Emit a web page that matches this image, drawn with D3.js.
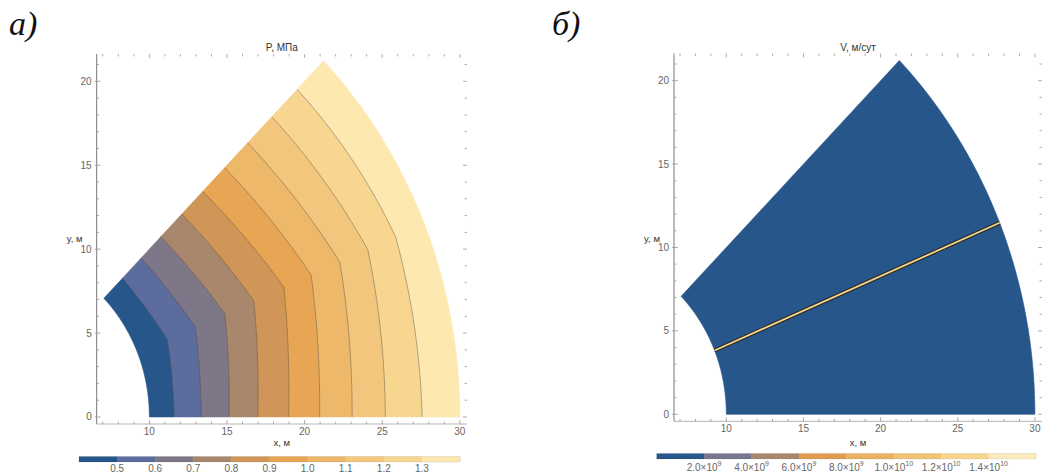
<!DOCTYPE html>
<html>
<head>
<meta charset="utf-8">
<script src="https://cdn.jsdelivr.net/npm/d3@7"></script>
<style>
  body { margin: 0; background: #fff; }
  svg { display: block; }
  text { font-family: "Liberation Sans", Arial, sans-serif; }
  text.letter { font-family: "Liberation Serif", "Times New Roman", serif; font-style: italic; }
</style>
</head>
<body>
<svg id="chart" width="1043" height="473"></svg>
<script>
// ---- Geometry of the reservoir sector (metres, degrees) ----
const innerRadius = 10;
const outerRadius = 30;
const sectorDeg = 45;

// ---- Pressure field P, MPa ----
const pRange = [0.4, 1.4];
const pLevels = [0.5, 0.6, 0.7, 0.8, 0.9, 1.0, 1.1, 1.2, 1.3];
// radius of each isobar at polar angles 0, 11.25, 22.5, 33.75 and 45 degrees
const pR0    = [11.60, 13.34, 15.14, 16.99, 18.97, 20.97, 23.06, 25.20, 27.57];
const pR11   = [11.69, 13.50, 15.40, 17.31, 19.32, 21.27, 23.33, 25.40, 27.60];
const pR22   = [12.08, 14.02, 16.08, 18.10, 20.20, 22.10, 24.10, 26.05, 28.00];
const pR34   = [11.73, 13.53, 15.43, 17.38, 19.37, 21.32, 23.37, 25.48, 27.69];
const pR45   = [11.70, 13.40, 15.20, 17.10, 19.00, 21.00, 23.10, 25.30, 27.60];
const pColors = ["#27568b", "#5b6c9d", "#7e7787", "#a9876d", "#d09658",
                 "#e8a654", "#eeb86b", "#f3c67d", "#f8d690", "#fde8b0"];
const pTicks = [0.5, 0.6, 0.7, 0.8, 0.9, 1.0, 1.1, 1.2, 1.3];

// ---- Velocity field V, m/day ----
const vBreaks = [0, 2e9, 4e9, 6e9, 8e9, 1e10, 1.2e10, 1.4e10, 1.6e10];
const vTicks = [2e9, 4e9, 6e9, 8e9, 1e10, 1.2e10, 1.4e10];
const vColors = ["#27568b", "#77788f", "#a8886d", "#e09c4f",
                 "#ebb15f", "#f1c374", "#f8d68d", "#fdecbb"];
const vMatrix = 5e8;          // velocity in the matrix
const vFracture = 1.3e10;     // velocity along the fracture
const fractureDeg = 22.5;
const fractureR = [10, 30];

// ---- Axis ticks ----
const xMajor = [10, 15, 20, 25, 30];
const yMajor = [0, 5, 10, 15, 20];
const xMinor = d3.range(7, 31);
const yMinor = d3.range(0, 22);

const svg = d3.select("#chart");
const rad = d => d * Math.PI / 180;

// quadratic interpolation of r between three equally spaced angles
function quad(a, b, c, t) {
  return a * 2 * (t - 0.5) * (t - 1) - b * 4 * t * (t - 1) + c * 2 * t * (t - 0.5);
}
// points (x, y) of a curve given radii at 0, 11.25, 22.5, 33.75, 45 degrees
function curvePoints(rs, n = 40) {
  const pts = [];
  for (let seg = 0; seg < 2; seg++) {
    for (let k = (seg === 0 ? 0 : 1); k <= n; k++) {
      const t = k / n;
      const th = rad(seg * sectorDeg / 2 + t * sectorDeg / 2);
      const r = quad(rs[seg * 2], rs[seg * 2 + 1], rs[seg * 2 + 2], t);
      pts.push([r * Math.cos(th), r * Math.sin(th)]);
    }
  }
  return pts;
}
const arcRadii = r => [r, r, r, r, r];

function panel(cfg) {
  const g = svg.append("g");
  const xs = d3.scaleLinear().domain([6.61, 30.46]).range([cfg.left, cfg.right]);
  const ys = d3.scaleLinear().domain([-0.42, 21.63]).range([cfg.bottom, cfg.top]);
  const line = d3.line().x(d => xs(d[0])).y(d => ys(d[1]));

  cfg.draw(g, xs, ys, line);

  // frame: left and bottom lines, ticks on all four sides
  g.append("line").attr("x1", cfg.left).attr("x2", cfg.left)
    .attr("y1", cfg.top).attr("y2", cfg.bottom).attr("stroke", "#777").attr("stroke-width", 1);
  g.append("line").attr("x1", cfg.left).attr("x2", cfg.right)
    .attr("y1", cfg.bottom).attr("y2", cfg.bottom).attr("stroke", "#b5b5b5").attr("stroke-width", 1);

  const tickCol = "#999";
  xMinor.forEach(v => {
    const L = xMajor.includes(v) ? 4 : 2.5;
    const x = xs(v);
    g.append("line").attr("x1", x).attr("x2", x).attr("y1", cfg.bottom).attr("y2", cfg.bottom - L)
      .attr("stroke", tickCol).attr("stroke-width", 0.8);
    g.append("line").attr("x1", x).attr("x2", x).attr("y1", cfg.top).attr("y2", cfg.top + L)
      .attr("stroke", tickCol).attr("stroke-width", 0.8);
  });
  yMinor.forEach(v => {
    const L = yMajor.includes(v) ? 4 : 2.5;
    const y = ys(v);
    g.append("line").attr("x1", cfg.left - (yMajor.includes(v) ? 2 : 0)).attr("x2", cfg.left + L)
      .attr("y1", y).attr("y2", y).attr("stroke", tickCol).attr("stroke-width", 0.8);
    g.append("line").attr("x1", cfg.right).attr("x2", cfg.right - L)
      .attr("y1", y).attr("y2", y).attr("stroke", tickCol).attr("stroke-width", 0.8);
  });

  xMajor.forEach(v => {
    g.append("text").attr("x", xs(v)).attr("y", cfg.bottom + 11)
      .attr("text-anchor", "middle").attr("font-size", 10).attr("fill", "#666").text(v);
  });
  yMajor.forEach(v => {
    g.append("text").attr("x", cfg.left - 5).attr("y", ys(v) + 3.5)
      .attr("text-anchor", "end").attr("font-size", 10).attr("fill", "#666").text(v);
  });

  g.append("text").attr("x", (cfg.left + cfg.right) / 2).attr("y", 51)
    .attr("text-anchor", "middle").attr("font-size", 10).attr("fill", "#333").text(cfg.title);
  g.append("text").attr("x", (cfg.left + cfg.right) / 2).attr("y", 446)
    .attr("text-anchor", "middle").attr("font-size", 9.5).attr("fill", "#333").text("x, м");
  g.append("text").attr("x", cfg.left - 22).attr("y", 242)
    .attr("text-anchor", "middle").attr("font-size", 9.5).attr("fill", "#333").text("y, м");
  return { xs, ys };
}

// ---------- panel a: pressure ----------
panel({
  left: 96.7, right: 467, top: 54, bottom: 424, title: "P, МПа",
  draw(g, xs, ys, line) {
    const bounds = [arcRadii(innerRadius)];
    pLevels.forEach((lv, i) => bounds.push([pR0[i], pR11[i], pR22[i], pR34[i], pR45[i]]));
    bounds.push(arcRadii(outerRadius));
    const curves = bounds.map(b => curvePoints(b));
    for (let i = 0; i < curves.length - 1; i++) {
      const poly = curves[i].concat(curves[i + 1].slice().reverse());
      g.append("path").attr("d", line(poly) + "Z")
        .attr("fill", pColors[i]).attr("stroke", pColors[i]).attr("stroke-width", 0.6);
    }
    for (let i = 1; i < curves.length - 1; i++) {
      g.append("path").attr("d", line(curves[i])).attr("fill", "none")
        .attr("stroke", "rgba(50,45,40,0.55)").attr("stroke-width", 0.7);
    }
  }
});

// ---------- panel б: velocity ----------
const vColor = d3.scaleThreshold().domain(vBreaks.slice(1, -1)).range(vColors);
panel({
  left: 674, right: 1042, top: 53.5, bottom: 421.3, title: "V, м/сут",
  draw(g, xs, ys, line) {
    const inner = curvePoints(arcRadii(innerRadius));
    const outer = curvePoints(arcRadii(outerRadius));
    g.append("path").attr("d", line(inner.concat(outer.slice().reverse())) + "Z")
      .attr("fill", vColor(vMatrix)).attr("stroke", vColor(vMatrix)).attr("stroke-width", 0.6);
    const th = rad(fractureDeg);
    const seg = fractureR.map(r => [r * Math.cos(th), r * Math.sin(th)]);
    g.append("path").attr("d", line(seg)).attr("stroke", "#2a2a26")
      .attr("stroke-width", 4).attr("fill", "none");
    g.append("path").attr("d", line(seg)).attr("stroke", vColor(vFracture))
      .attr("stroke-width", 1.8).attr("fill", "none");
  }
});

// ---------- colour bars ----------
function colorBar(x0, x1, y0, h, breaks, colors, ticks, fmt) {
  const s = d3.scaleLinear().domain([breaks[0], breaks[breaks.length - 1]]).range([x0, x1]);
  const g = svg.append("g");
  colors.forEach((c, i) => {
    g.append("rect").attr("x", s(breaks[i])).attr("y", y0)
      .attr("width", s(breaks[i + 1]) - s(breaks[i]) + 0.3).attr("height", h).attr("fill", c);
  });
  g.append("rect").attr("x", x0).attr("y", y0).attr("width", x1 - x0).attr("height", h)
    .attr("fill", "none").attr("stroke", "rgba(0,0,0,0.15)").attr("stroke-width", 0.5);
  ticks.forEach(t => fmt(g, s(t), t));
}

const pBreaks = d3.range(pColors.length + 1).map(i => pRange[0] + i * 0.1);
colorBar(79, 460, 456.5, 5.5, pBreaks, pColors, pTicks, (g, x, t) => {
  g.append("text").attr("x", x).attr("y", 471.5).attr("text-anchor", "middle")
    .attr("font-size", 10).attr("fill", "#666").text(d3.format(".1f")(t));
});

colorBar(656.7, 1036, 453.5, 5.5, vBreaks, vColors, vTicks, (g, x, t) => {
  const e = Math.floor(Math.log10(t) + 1e-9);
  const m = t / Math.pow(10, e);
  const txt = g.append("text").attr("x", x).attr("y", 470.5).attr("text-anchor", "middle")
    .attr("font-size", 10).attr("fill", "#666");
  txt.append("tspan").text(m.toFixed(1) + "\u00d710");
  txt.append("tspan").attr("dy", -4.5).attr("font-size", 7).text(e);
});

// ---------- panel letters ----------
svg.append("text").attr("class", "letter").attr("x", 9).attr("y", 35).attr("font-size", 34)
  .attr("fill", "#111").text("a)");
svg.append("text").attr("class", "letter").attr("x", 552).attr("y", 35).attr("font-size", 34)
  .attr("fill", "#111").text("б)");
</script>
</body>
</html>
